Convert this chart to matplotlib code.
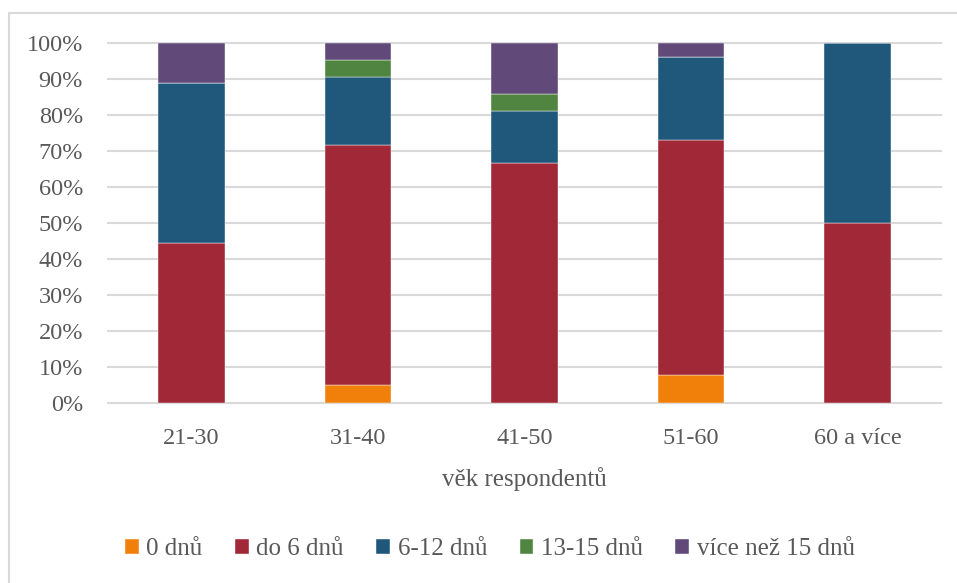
import numpy as np
import matplotlib
matplotlib.use("Agg")
import matplotlib.pyplot as plt
from matplotlib.patches import Rectangle

# Data: share of respondents (fraction) per age group
groups = ["21-30", "31-40", "41-50", "51-60", "60 a více"]
series = ["0 dnů", "do 6 dnů", "6-12 dnů", "13-15 dnů", "více než 15 dnů"]
zero_days = [0.0, 0.0476, 0.0, 0.0769, 0.0]
upto_6 = [0.4444, 0.6667, 0.6667, 0.6538, 0.5]
d6_12 = [0.4444, 0.1905, 0.1429, 0.2308, 0.5]
d13_15 = [0.0, 0.0476, 0.0476, 0.0, 0.0]
over_15 = [0.1111, 0.0476, 0.1429, 0.0385, 0.0]
colors = ["#F0800A", "#A02837", "#1F587B", "#4F8541", "#61497A"]

plt.rcParams['font.family'] = ['Liberation Serif', 'DejaVu Serif']
txt = "#595959"

fig = plt.figure(figsize=(9.57, 5.83), dpi=100)
ax = fig.add_axes([0.1129, 0.3096, 0.8704, 0.6172])

# outer chart border (cut off at right and bottom like the source)
fig.patches.append(Rectangle((9/957, -0.1), 1.2, 1.1 - 13/583, transform=fig.transFigure,
                             fill=False, edgecolor="#D9D9D9", linewidth=1.5))

x = np.arange(len(groups))
bottom = np.zeros(len(groups))
for name, vals, c in zip(series, [zero_days, upto_6, d6_12, d13_15, over_15], colors):
    ax.bar(x, vals, 0.4, bottom=bottom, color=c, label=name, zorder=3,
           edgecolor="white", linewidth=0.3)
    bottom += np.array(vals)

for t in np.arange(0, 1.01, 0.1):
    ax.axhline(t, color="#D9D9D9", linewidth=1.5, zorder=1, clip_on=False)

ax.set_xlim(-0.5, len(groups) - 0.5)
ax.set_ylim(0, 1)
ax.set_yticks(np.arange(0, 1.01, 0.1))
ax.set_yticklabels([f"{int(round(v*100))}%" for v in np.arange(0, 1.01, 0.1)])
ax.set_xticks(x)
ax.set_xticklabels(groups)
ax.tick_params(axis='both', length=0, labelsize=17.5, colors=txt)
ax.tick_params(axis='y', pad=18)
ax.tick_params(axis='x', pad=18)
for s in ax.spines.values():
    s.set_visible(False)

ax.set_xlabel("věk respondentů", fontsize=18, color=txt, labelpad=13)

fig.legend(loc="center", bbox_to_anchor=(0.512, 1 - 549/583), ncol=5, frameon=False,
           fontsize=18, labelcolor=txt, handlelength=0.55, handleheight=0.55,
           handletextpad=0.3, columnspacing=1.3)

fig.savefig("out.png", dpi=100)
